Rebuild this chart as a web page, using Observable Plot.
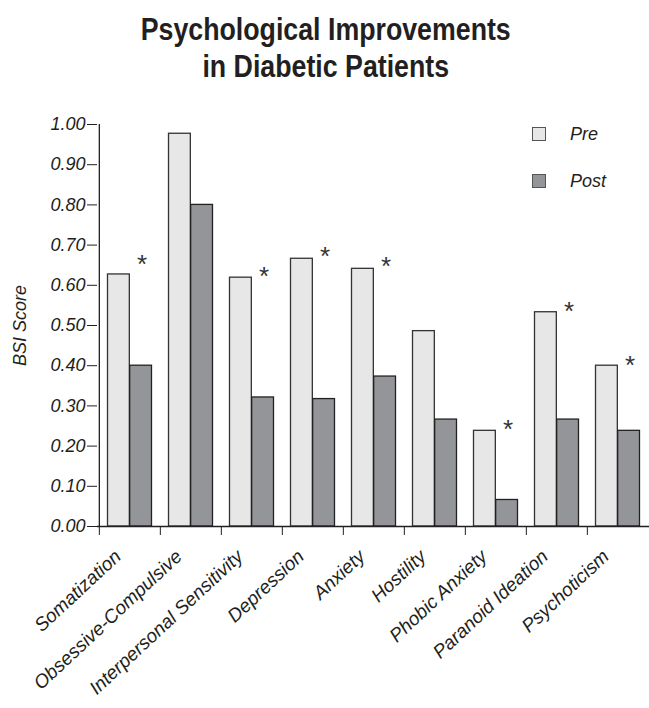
<!DOCTYPE html>
<html>
<head>
<meta charset="utf-8">
<script src="https://cdn.jsdelivr.net/npm/d3@7"></script>
<script src="https://cdn.jsdelivr.net/npm/@observablehq/plot@0.6"></script>
<style>
  html, body { margin: 0; padding: 0; background: #fff; }
  #wrap { position: relative; width: 649px; height: 708px; font-family: "Liberation Sans", Arial, sans-serif; }
  #titlebox { height: 84px; box-sizing: border-box; padding-top: 11px; }
  #title { width: 649px; text-align: center; transform-origin: 332px 0;
           font-family: "Liberation Sans", Arial, sans-serif; font-weight: bold;
           font-size: 32px; line-height: 37px; color: #231f20; }
  #title span { display: inline-block; }
  .leg { position: absolute; left: 532px; width: 140px; height: 14px; display: flex; align-items: center;
         font-style: italic; font-size: 18px; color: #231f20; }
  .leg .sw { width: 12px; height: 12px; border: 1px solid #555; margin-right: 24px; }
</style>
</head>
<body>
<div id="wrap">
  <div id="titlebox"><div id="title"><span id="t1">Psychological Improvements</span><br><span id="t2">in Diabetic Patients</span></div></div>
  <div id="chart"></div>
  <div class="leg" id="legPre" style="top:127px"><div class="sw"></div><span>Pre</span></div>
  <div class="leg" id="legPost" style="top:174px"><div class="sw"></div><span>Post</span></div>
</div>
<script>
const categories = ["Somatization", "Obsessive-Compulsive", "Interpersonal Sensitivity", "Depression",
  "Anxiety", "Hostility", "Phobic Anxiety", "Paranoid Ideation", "Psychoticism"];
const preValues  = [0.627, 0.977, 0.619, 0.666, 0.641, 0.486, 0.238, 0.533, 0.400];
const postValues = [0.400, 0.800, 0.321, 0.317, 0.373, 0.266, 0.066, 0.266, 0.238];
const starLevels = [0.667, null, 0.637, 0.687, 0.662, null, 0.256, 0.550, 0.415];
const seriesNames = ["Pre", "Post"];
const seriesColors = ["#e6e7e6", "#939598"];
const yTicks = [0, 0.1, 0.2, 0.3, 0.4, 0.5, 0.6, 0.7, 0.8, 0.9, 1.0];
const yLabel = "BSI Score";

// condense the title to the reference's width
const t1w = document.getElementById("t1").getBoundingClientRect().width;
document.getElementById("title").style.transform = `scaleX(${370 / t1w})`;

document.querySelector("#legPre .sw").style.background = seriesColors[0];
document.querySelector("#legPost .sw").style.background = seriesColors[1];
document.querySelector("#legPre span").textContent = seriesNames[0];
document.querySelector("#legPost span").textContent = seriesNames[1];

const W = 649, ML = 97, MR = 0;
const bw = (W - ML - MR) / categories.length;
const pad = 8.5;

const preData = categories.map((c, i) => ({cat: c, series: seriesNames[0], value: preValues[i]}));
const postData = categories.map((c, i) => ({cat: c, series: seriesNames[1], value: postValues[i]}));
const stars = categories.map((c, i) => ({cat: c, y: starLevels[i]})).filter(d => d.y != null);

const chart = Plot.plot({
  width: W,
  height: 624,
  marginLeft: ML,
  marginRight: MR,
  marginTop: 40,
  marginBottom: 182,
  style: {fontFamily: "'Liberation Sans', Arial, sans-serif", fontSize: "18px", fontStyle: "italic", color: "#231f20", background: "transparent"},
  x: {domain: categories, padding: 0},
  y: {domain: [0, 1]},
  color: {domain: seriesNames, range: seriesColors},
  marks: [
    Plot.barY(preData, {x: "cat", y: "value", fill: "series", stroke: "#333", strokeWidth: 1.3,
      insetLeft: pad, insetRight: bw / 2}),
    Plot.barY(postData, {x: "cat", y: "value", fill: "series", stroke: "#222", strokeWidth: 1.3,
      insetLeft: bw / 2, insetRight: pad}),
    Plot.text(stars, {x: "cat", y: "y", text: () => "*", dx: 12, dy: 6, fontSize: 26, fontStyle: "normal",
      lineAnchor: "middle", fill: "#333"}),
    Plot.ruleY([0], {stroke: "#231f20", strokeWidth: 1.3}),
    Plot.ruleX([categories[0]], {x: d => d, y1: 0, y2: 1, dx: -bw / 2, stroke: "#231f20", strokeWidth: 1.3}),
    Plot.axisY({ticks: yTicks, tickFormat: d3.format(".2f"), tickSize: 10, tickPadding: 2, fontSize: 18,
      label: yLabel, labelAnchor: "center", labelArrow: "none", labelOffset: 84, stroke: "#231f20"}),
    Plot.axisX({tickSize: 9, dx: -bw / 2, fill: "none", label: null, stroke: "#231f20"}),
    Plot.axisX({tickSize: 0, tickRotate: -43, tickPadding: 27, dx: -12, fontSize: 19, label: null})
  ]
});
document.getElementById("chart").appendChild(chart);
</script>
</body>
</html>
